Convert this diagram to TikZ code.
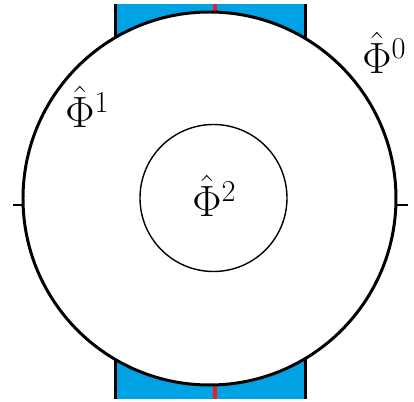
\documentclass[tikz,border=0pt]{standalone}
\usepackage{amsmath,amssymb}
\usepackage{xcolor}
\usepackage{tikz}
\definecolor{stripblue}{RGB}{0,162,227}
\definecolor{cutred}{RGB}{237,28,36}

\begin{document}
\begin{tikzpicture}[
    x=0.02cm, y=-0.02cm,
    rim/.style={draw=black, line width=1.7pt},
    core/.style={draw=black, line width=0.8pt},
    edge/.style={draw=black, line width=2pt},
    tick/.style={draw=black, line width=1.4pt},
    phlabel/.style={anchor=base west, inner sep=0pt,
        font=\fontsize{24}{28}\selectfont},
]
\useasboundingbox (0,0) rectangle (414,402);

% strip behind the disc
\fill[stripblue] (115.7,4) rectangle (305.3,399);
\draw[edge] (115.7,4) -- (115.7,399);
\draw[edge] (305.3,4) -- (305.3,399);
\draw[cutred, line width=2.2pt] (214.7,4) -- (214.7,399);

% outer disc and inner disc
\coordinate (c0) at (209.5,198.5);
\coordinate (c2) at (213.5,198);
\fill[white] (c0) circle[radius=186.5];
\draw[rim] (c0) circle[radius=186.5];
\draw[core] (c2) circle[radius=73.5];

% ticks
\coordinate (tl) at (23,205);
\coordinate (tr) at (396,205);
\draw[tick] (tl) -- ++(-10,0);
\draw[tick] (tr) -- ++(12,0);

% labels
\node[phlabel] (phi0) at (362,74) {$\hat{\Phi}^0$};
\node[phlabel] (phi1) at (65,128) {$\hat{\Phi}^1$};
\node[phlabel] (phi2) at (192,217) {$\hat{\Phi}^2$};
\end{tikzpicture}
\end{document}
